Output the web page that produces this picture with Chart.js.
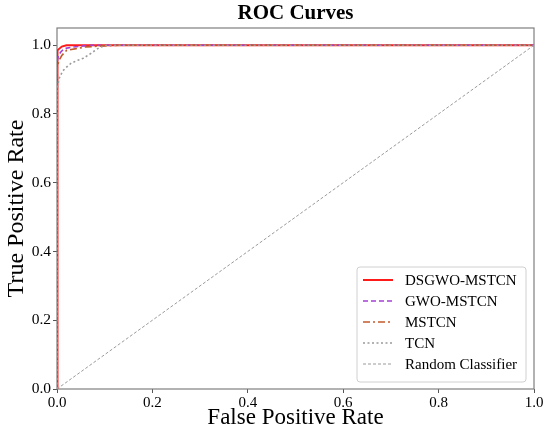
<!DOCTYPE html>
<html>
<head>
<meta charset="utf-8">
<script src="https://cdn.jsdelivr.net/npm/chart.js@4/dist/chart.umd.min.js"></script>
<style>
  html, body { margin: 0; padding: 0; background: #fff; }
  #wrap { width: 550px; height: 435px; }
</style>
</head>
<body>
<div id="wrap"><canvas id="roc-chart"></canvas></div>
<script>
// values
const fprDsgwo = [0, 0, 0.002, 0.005, 0.01, 0.02, 1.0];
const tprDsgwo = [0, 0.97, 0.985, 0.99, 0.996, 1.0, 1.0];

const fprGwo = [0, 0, 0.003, 0.008, 0.015, 0.03, 0.05, 0.07, 1.0];
const tprGwo = [0, 0.95, 0.97, 0.98, 0.99, 0.994, 0.997, 1.0, 1.0];

const fprMstcn = [0, 0, 0.004, 0.01, 0.02, 0.04, 0.06, 0.1, 0.13, 1.0];
const tprMstcn = [0, 0.93, 0.955, 0.97, 0.985, 0.99, 0.995, 0.998, 1.0, 1.0];

const fprTcn = [0, 0, 0.005, 0.012, 0.02, 0.03, 0.045, 0.055, 0.07, 0.08, 0.09, 0.105, 1.0];
const tprTcn = [0, 0.87, 0.905, 0.925, 0.936, 0.948, 0.957, 0.962, 0.975, 0.985, 0.994, 1.0, 1.0];

const fprRandom = [0, 1];
const tprRandom = [0, 1];

const xTicks = [0, 0.2, 0.4, 0.6, 0.8, 1.0];
const yTicks = [0, 0.2, 0.4, 0.6, 0.8, 1.0];

const serif = "'Liberation Serif', 'DejaVu Serif', serif";

function toPoints(xs, ys) {
  return xs.map((x, i) => ({ x, y: ys[i] }));
}

// frame on all four sides, like matplotlib spines
const framePlugin = {
  id: "frame",
  beforeDatasetsDraw(chart) {
    const { ctx, chartArea: a } = chart;
    ctx.save();
    ctx.strokeStyle = "#7f7f7f";
    ctx.lineWidth = 1.2;
    ctx.strokeRect(a.left, a.top, a.right - a.left, a.bottom - a.top);
    ctx.restore();
  },
};

// title centred over the plot area
const plotTitlePlugin = {
  id: "plotTitle",
  afterDraw(chart) {
    const { ctx, chartArea: a } = chart;
    ctx.save();
    ctx.font = "bold 21px " + serif;
    ctx.fillStyle = "#000";
    ctx.textAlign = "center";
    ctx.textBaseline = "middle";
    ctx.fillText("ROC Curves", (a.left + a.right) / 2, 14);
    ctx.restore();
  },
};

// legend box in the lower right corner of the plot
const cornerLegendPlugin = {
  id: "cornerLegend",
  afterDraw(chart) {
    const { ctx, chartArea: a } = chart;
    const sets = chart.data.datasets;
    const rowH = 21;
    const w = 169;
    const h = sets.length * rowH + 10;
    const right = a.right - 8;
    const bottom = a.bottom - 7;
    const left = right - w;
    const top = bottom - h;
    ctx.save();
    ctx.fillStyle = "rgba(255,255,255,0.9)";
    ctx.strokeStyle = "#d0d0d0";
    ctx.lineWidth = 1;
    ctx.beginPath();
    ctx.roundRect(left, top, w, h, 3);
    ctx.fill();
    ctx.stroke();
    ctx.font = "15px " + serif;
    ctx.textBaseline = "middle";
    ctx.textAlign = "left";
    sets.forEach((ds, i) => {
      const y = top + 13 + i * rowH;
      ctx.strokeStyle = ds.borderColor;
      ctx.lineWidth = ds.borderWidth;
      ctx.setLineDash(ds.borderDash || []);
      ctx.beginPath();
      ctx.moveTo(left + 6, y);
      ctx.lineTo(left + 36, y);
      ctx.stroke();
      ctx.setLineDash([]);
      ctx.fillStyle = "#000";
      ctx.fillText(ds.label, left + 48, y + 1);
    });
    ctx.restore();
  },
};

const ctx = document.getElementById("roc-chart").getContext("2d");
new Chart(ctx, {
  type: "line",
  data: {
    datasets: [
      {
        label: "DSGWO-MSTCN",
        data: toPoints(fprDsgwo, tprDsgwo),
        borderColor: "#ff1a1a",
        borderWidth: 2,
        order: 5,
      },
      {
        label: "GWO-MSTCN",
        data: toPoints(fprGwo, tprGwo),
        borderColor: "#a43fd6",
        borderWidth: 1.6,
        borderDash: [5, 3],
        order: 4,
      },
      {
        label: "MSTCN",
        data: toPoints(fprMstcn, tprMstcn),
        borderColor: "#c25a2a",
        borderWidth: 1.6,
        borderDash: [7, 3, 2, 3],
        order: 3,
      },
      {
        label: "TCN",
        data: toPoints(fprTcn, tprTcn),
        borderColor: "#9a9a9a",
        borderWidth: 1.6,
        borderDash: [2, 2.5],
        order: 2,
      },
      {
        label: "Random Classifier",
        data: toPoints(fprRandom, tprRandom),
        borderColor: "#9a9a9a",
        borderWidth: 1,
        borderDash: [3, 2],
        order: 1,
      },
    ],
  },
  options: {
    responsive: true,
    maintainAspectRatio: false,
    animation: false,
    layout: { padding: { top: 28, right: 16, left: 0, bottom: 0 } },
    elements: {
      point: { radius: 0 },
      line: { tension: 0, fill: false },
    },
    plugins: {
      legend: { display: false },
      title: { display: false },
      tooltip: { enabled: false },
    },
    scales: {
      x: {
        type: "linear",
        min: 0,
        max: 1,
        afterBuildTicks: (axis) => {
          axis.ticks = xTicks.map((v) => ({ value: v }));
        },
        afterFit: (axis) => {
          axis.height = 46;
        },
        ticks: {
          color: "#000",
          font: { family: serif, size: 15 },
          padding: 1,
          maxRotation: 0,
          callback: (v) => Number(v).toFixed(1),
        },
        grid: {
          drawOnChartArea: false,
          color: "#555",
          tickLength: 4,
        },
        border: { display: false },
        title: {
          display: true,
          text: "False Positive Rate",
          color: "#000",
          font: { family: serif, size: 23 },
          padding: { top: 0, bottom: 3 },
        },
      },
      y: {
        type: "linear",
        min: 0,
        max: 1.05,
        afterBuildTicks: (axis) => {
          axis.ticks = yTicks.map((v) => ({ value: v }));
        },
        afterFit: (axis) => {
          axis.width = 57;
        },
        ticks: {
          color: "#000",
          font: { family: serif, size: 15.5 },
          padding: 2,
          callback: (v) => Number(v).toFixed(1),
        },
        grid: {
          drawOnChartArea: false,
          color: "#555",
          tickLength: 4,
        },
        border: { display: false },
        title: {
          display: true,
          text: "True Positive Rate",
          color: "#000",
          font: { family: serif, size: 24 },
          padding: { top: 2, bottom: 0 },
        },
      },
    },
  },
  plugins: [framePlugin, plotTitlePlugin, cornerLegendPlugin],
});
</script>
</body>
</html>
